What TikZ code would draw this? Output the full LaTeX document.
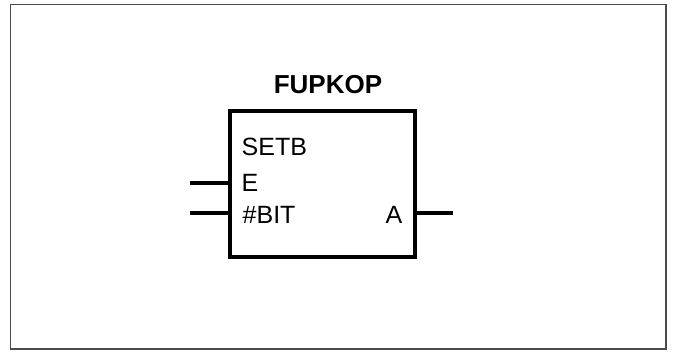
\documentclass[tikz,border=0pt]{standalone}
\usepackage{fontspec}
\setmainfont{Liberation Sans}
\usepackage{tikz}

\tikzset{
  pinline/.style={black,line width=4pt},
  lbl/.style={inner sep=0pt,font=\fontsize{25}{30}\selectfont},
}

\begin{document}
\begin{tikzpicture}[x=1pt,y=-1pt]
    \useasboundingbox (0,0) rectangle (675,351);
    \draw[black!70,line width=1.5pt] (10.5,4.5) rectangle (666,349);
    \node[draw,line width=4pt,minimum width=185pt,minimum height=146pt,inner sep=0pt] (fup) at (322.2,184.2) {};
    \node[lbl,anchor=base,font=\fontsize{26}{30}\selectfont\bfseries] (title) at (328,93.5) {FUPKOP};
    \node[lbl,anchor=base west] (setb) at (241.5,155) {SETB};
    \node[lbl,anchor=base west] (ein) at (241.5,191.5) {E};
    \node[lbl,anchor=base west] (bit) at (242.5,223) {\#BIT};
    \node[lbl,anchor=base east] (aout) at (402.5,223) {A};
    \coordinate (pE) at (190,183);
    \coordinate (pBIT) at (190,213);
    \coordinate (pA) at (453,213);
    \draw[pinline] (pE) -- (fup.west |- pE);
    \draw[pinline] (pBIT) -- (fup.west |- pBIT);
    \draw[pinline] (fup.east |- pA) -- (pA);
  \end{tikzpicture}
\end{document}
